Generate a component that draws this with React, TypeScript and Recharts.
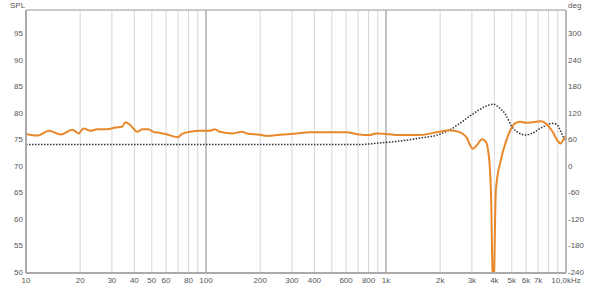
import {
  LineChart,
  Line,
  XAxis,
  YAxis,
  CartesianGrid,
  ReferenceLine,
} from "recharts";

document.body.style.margin = "0";

// SPL curve (Hz, dB)
const splFreq = [
  10, 11.6, 13.4, 15.6, 18.1, 19.6, 20.9, 22.8, 24.9, 28.3, 31.4, 34.3, 35.6, 37.9, 41.5,
  44.2, 47.8, 50.9, 55.6, 60.8, 70, 73.6, 81.5, 92.6, 105, 112, 119, 141, 158, 169, 199,
  218, 257, 319, 376, 505, 603, 712, 809, 884, 1004, 1185, 1528, 1972, 2240, 2545, 2782,
  3041, 3200, 3413, 3590, 3731, 3826, 3950, 4077, 4346, 4634, 4935, 5260, 5608, 5977,
  6790, 7240, 7713, 8323, 8872, 9334, 9703, 10000,
];
const splValue = [
  76.0, 75.7, 76.6, 75.9, 76.8, 76.1, 77.05, 76.6, 76.9, 76.9, 77.2, 77.4, 78.2, 77.7, 76.4,
  76.9, 76.9, 76.4, 76.2, 75.9, 75.4, 76.0, 76.4, 76.6, 76.6, 76.9, 76.4, 76.1, 76.4, 76.1, 75.85,
  75.6, 75.85, 76.1, 76.3, 76.3, 76.3, 75.9, 75.8, 76.1, 76.0, 75.8, 75.8, 76.4, 76.7, 76.4, 75.5,
  73.2, 73.9, 75.0, 74.5, 71.7, 65.4, 44, 65.4, 71.1, 74.5, 76.9, 78.1, 78.3, 78.1,
  78.3, 78.4, 78.0, 76.7, 75.0, 74.2, 75.0, 75.6,
];

// dotted curve (Hz, deg)
const degFreq = [
  10, 100, 500, 712, 918, 1185, 1528, 1972, 2240, 2545, 2891, 3283, 3731, 3975, 4237, 4634,
  5000, 5472, 5977, 6450, 7328, 8323, 8872, 9456, 9820,
];
const degValue = [
  48, 48, 48, 48, 51.6, 55.8, 62.4, 70.8, 80.4, 94.8, 111, 126, 137.4, 139.2, 132, 115,
  88.8, 74.4, 69.6, 73.2, 86.4, 96, 93.6, 73.2, 58.2,
];

const gridFreq = [
  10, 20, 30, 40, 50, 60, 70, 80, 90, 100, 200, 300, 400, 500, 600, 700, 800, 900, 1000,
  2000, 3000, 4000, 5000, 6000, 7000, 8000, 9000, 10000,
];
const freqLabels: Record<number, string> = {
  10: "10", 20: "20", 30: "30", 40: "40", 50: "50", 60: "60", 80: "80", 100: "100",
  200: "200", 300: "300", 400: "400", 600: "600", 800: "800", 1000: "1k", 2000: "2k",
  3000: "3k", 4000: "4k", 5000: "5k", 6000: "6k", 7000: "7k", 10000: "10,0kHz",
};
const splTicks = [50, 55, 60, 65, 70, 75, 80, 85, 90, 95];
const degTicks = [-240, -180, -120, -60, 0, 60, 120, 180, 240, 300];

const splData = splFreq.map((f, i) => ({ f, v: splValue[i] }));
const degData = degFreq.map((f, i) => ({ f, d: degValue[i] }));

const SPL_MIN = 49.75;
const SPL_MAX = 99.4;

const tick = { fontSize: 8, fill: "#555", fontFamily: "Liberation Sans, Arial, sans-serif" };
const border = "#aaaaaa";

export default function App() {
  return (
    <div style={{ position: "relative", width: 600, height: 290, background: "#fff" }}>
      <span style={{ position: "absolute", left: 10, top: 1, ...tick, color: "#555", fontFamily: tick.fontFamily }}>
        SPL
      </span>
      <span style={{ position: "absolute", left: 568, top: 1, ...tick, color: "#555", fontFamily: tick.fontFamily }}>
        deg
      </span>
      <LineChart width={600} height={290} margin={{ top: 10, right: 0, bottom: 0, left: 0 }}>
        <CartesianGrid stroke="#d8d8d8" strokeWidth={1} />
        <XAxis
          dataKey="f"
          type="number"
          scale="log"
          domain={[10, 10000]}
          ticks={gridFreq}
          tickFormatter={(f: number) => freqLabels[f] ?? ""}
          allowDataOverflow
          height={17}
          tick={tick}
          tickLine={false}
          tickSize={0}
          tickMargin={4}
          axisLine={{ stroke: border, strokeWidth: 2 }}
          interval={0}
        />
        <YAxis
          yAxisId="spl"
          domain={[SPL_MIN, SPL_MAX]}
          ticks={splTicks}
          allowDataOverflow
          width={26}
          tick={tick}
          tickLine={false}
          tickSize={0}
          tickMargin={3}
          axisLine={{ stroke: border, strokeWidth: 2 }}
          interval={0}
        />
        <YAxis
          yAxisId="deg"
          orientation="right"
          domain={[(SPL_MIN - 70) * 12, (SPL_MAX - 70) * 12]}
          ticks={degTicks}
          allowDataOverflow
          width={34}
          tick={{ ...tick, textAnchor: "start" }}
          tickLine={false}
          tickSize={0}
          tickMargin={2}
          axisLine={{ stroke: border, strokeWidth: 1.5 }}
          interval={0}
        />
        <ReferenceLine yAxisId="spl" x={100} stroke="#c2c2c2" strokeWidth={2} />
        <ReferenceLine yAxisId="spl" x={1000} stroke="#c2c2c2" strokeWidth={2} />
        <ReferenceLine yAxisId="spl" y={SPL_MAX} stroke={border} strokeWidth={1} />
        <Line
          yAxisId="deg"
          data={degData}
          dataKey="d"
          type="monotone"
          stroke="#333"
          strokeWidth={1.5}
          strokeDasharray="1.5 1.5"
          dot={false}
          isAnimationActive={false}
        />
        <Line
          yAxisId="spl"
          data={splData}
          dataKey="v"
          type="monotone"
          stroke="#e8882a"
          strokeWidth={2}
          dot={false}
          isAnimationActive={false}
        />
      </LineChart>
    </div>
  );
}
